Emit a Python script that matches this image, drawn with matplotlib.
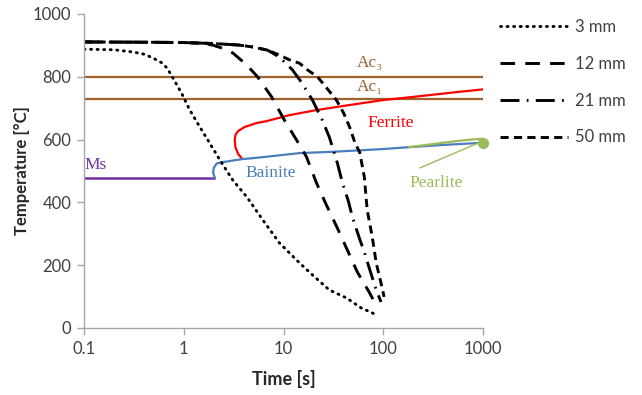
import matplotlib
matplotlib.use('Agg')
import matplotlib.pyplot as plt
from matplotlib.ticker import FixedLocator, FixedFormatter, NullLocator

# cooling curves (time [s], temperature [C])
t3 = [0.1, 0.2, 0.31, 0.4, 0.49, 0.6, 0.68, 0.78, 0.95, 1.15, 1.45, 1.74, 2.3, 3.1, 4.3, 6.2, 9.1, 14.5, 19.5, 28.8, 42.6, 60, 87]
T3 = [888, 886, 879, 872, 860, 845, 828, 796, 748, 694, 640, 599, 535, 471, 417, 344, 271, 207, 169, 121, 96, 64, 41]

t12 = [0.1, 0.5, 1.0, 1.5, 1.95, 2.5, 3.1, 4.2, 5.5, 7.6, 10.2, 13.5, 17, 21.4, 26.9, 34.7, 43.7, 55, 72, 80]
T12 = [911, 910, 909, 907, 901, 890, 876, 840, 800, 736, 662, 599, 545, 462, 392, 318, 248, 178, 115, 88]

t21 = [0.1, 0.5, 1, 2, 3.6, 4.9, 6.9, 9.1, 12.3, 15.1, 19.5, 24.5, 28.8, 34.7, 39, 44.7, 49, 57.5, 64.6, 72.4, 85, 95]
T21 = [911, 910, 909, 906, 901, 895, 885, 863, 822, 783, 726, 662, 608, 525, 462, 404, 354, 287, 242, 191, 121, 83]

t50 = [0.1, 0.5, 1, 2, 3.6, 4.9, 6.9, 9, 11.5, 14.5, 17.4, 21.9, 27, 33.9, 40, 46, 52, 58, 64.6, 69, 77.6, 85, 95, 102]
T50 = [911, 910, 909, 906, 901, 895, 885, 870, 854, 843, 822, 800, 765, 726, 685, 640, 590, 560, 481, 376, 290, 207, 143, 99]

# transformation lines
ac3 = 800
ac1 = 730
t_ms = [0.1, 2.0]
T_ms = [478, 478]
t_bain = [2.05, 1.97, 2.0, 2.14, 2.4, 2.69, 3.2, 3.89, 5, 8, 14.5, 30, 60, 100, 182, 400, 1000]
T_bain = [478, 495, 510, 524, 528, 530, 534, 538, 541, 548, 557, 561, 566, 570, 576, 583, 590]
t_fer = [3.8, 3.5, 3.3, 3.24, 3.3, 3.5, 4.07, 5.4, 6.8, 11.5, 21.4, 45.7, 100, 200, 500, 1000]
T_fer = [541, 555, 575, 599, 615, 627, 640, 653, 659, 678, 694, 710, 726, 736, 750, 760]
t_pear = [182, 300, 500, 700, 1000]
T_pear = [576, 585, 594, 599, 603]

xticks = [0.1, 1, 10, 100, 1000]
xticklabels = ['0.1', '1', '10', '100', '1000']
yticks = [0, 200, 400, 600, 800, 1000]

brown = '#a0622d'
blue = '#4a7ebb'
green = '#9bbb59'
purple = '#7030a0'
grey = '#a6a6a6'
txt = '#404040'

plt.rcParams['font.family'] = ['Lato', 'DejaVu Sans']
serif = ['Liberation Serif', 'DejaVu Serif']

fig = plt.figure(figsize=(6.42, 3.95), dpi=100)
ax = fig.add_axes([84/642, 1-328/395, (483-84)/642, (328-14)/395])

ax.plot([0.1, 1000], [ac3, ac3], color=brown, lw=1.6)
ax.plot([0.1, 1000], [ac1, ac1], color=brown, lw=1.6)
ax.plot(t_ms, T_ms, color=purple, lw=1.8)
ax.plot(t_fer, T_fer, color='red', lw=1.6)
ax.plot(t_bain, T_bain, color=blue, lw=1.6)
ax.plot(t_pear, T_pear, color=green, lw=1.6)
ax.plot([1000], [590], 'o', color=green, ms=7, clip_on=False)

lw = 2.1
l3, = ax.plot(t3, T3, color='black', lw=lw, dashes=(0.35, 1.9), dash_capstyle='round', label='3 mm')
l12, = ax.plot(t12, T12, color='black', lw=lw, dashes=(5, 3.5), label='12 mm')
l21, = ax.plot(t21, T21, color='black', lw=lw, dashes=(6.5, 2.5, 0.6, 2.5), label='21 mm')
l50, = ax.plot(t50, T50, color='black', lw=lw, dashes=(2.8, 1.8), label='50 mm')

fs = 12.5
ax.text(0.102, 519, 'Ms', color=purple, fontsize=fs, family=serif, va='center', ha='left')
ax.text(74, 844, 'Ac₃', color=brown, fontsize=fs, family=serif, va='center', ha='center')
ax.text(74, 766, 'Ac₁', color=brown, fontsize=fs, family=serif, va='center', ha='center')
ax.text(120, 653, 'Ferrite', color='red', fontsize=fs, family=serif, va='center', ha='center')
ax.text(7.4, 494, 'Bainite', color=blue, fontsize=fs, family=serif, va='center', ha='center')
ax.text(340, 462, 'Pearlite', color=green, fontsize=fs, family=serif, va='center', ha='center')
ax.plot([234, 880], [510, 588], color=green, lw=1.0)

ax.set_xscale('log')
ax.set_xlim(0.1, 1000)
ax.set_ylim(0, 1000)
ax.xaxis.set_major_locator(FixedLocator(xticks))
ax.xaxis.set_major_formatter(FixedFormatter(xticklabels))
ax.xaxis.set_minor_locator(NullLocator())
ax.set_yticks(yticks)

for s in ['top', 'right']:
    ax.spines[s].set_visible(False)
for s in ['left', 'bottom']:
    ax.spines[s].set_color(grey)
    ax.spines[s].set_linewidth(1.0)
ax.tick_params(axis='both', direction='out', length=5, width=1.0, color=grey,
               labelsize=12, labelcolor=txt, pad=4)

ax.set_xlabel('Time [s]', fontsize=13, fontweight='bold', color='#262626', labelpad=10)
ax.set_ylabel('Temperature [°C]', fontsize=12, fontweight='bold', color='#262626', labelpad=2)

fig.legend(handles=[l3, l12, l21, l50], loc='upper left', bbox_to_anchor=(500/642, 1-19/395),
           frameon=False, fontsize=12, handlelength=4.1, handletextpad=0.4,
           labelspacing=1.25, borderpad=0, borderaxespad=0, labelcolor=txt)

fig.savefig('out.png', dpi=100)
